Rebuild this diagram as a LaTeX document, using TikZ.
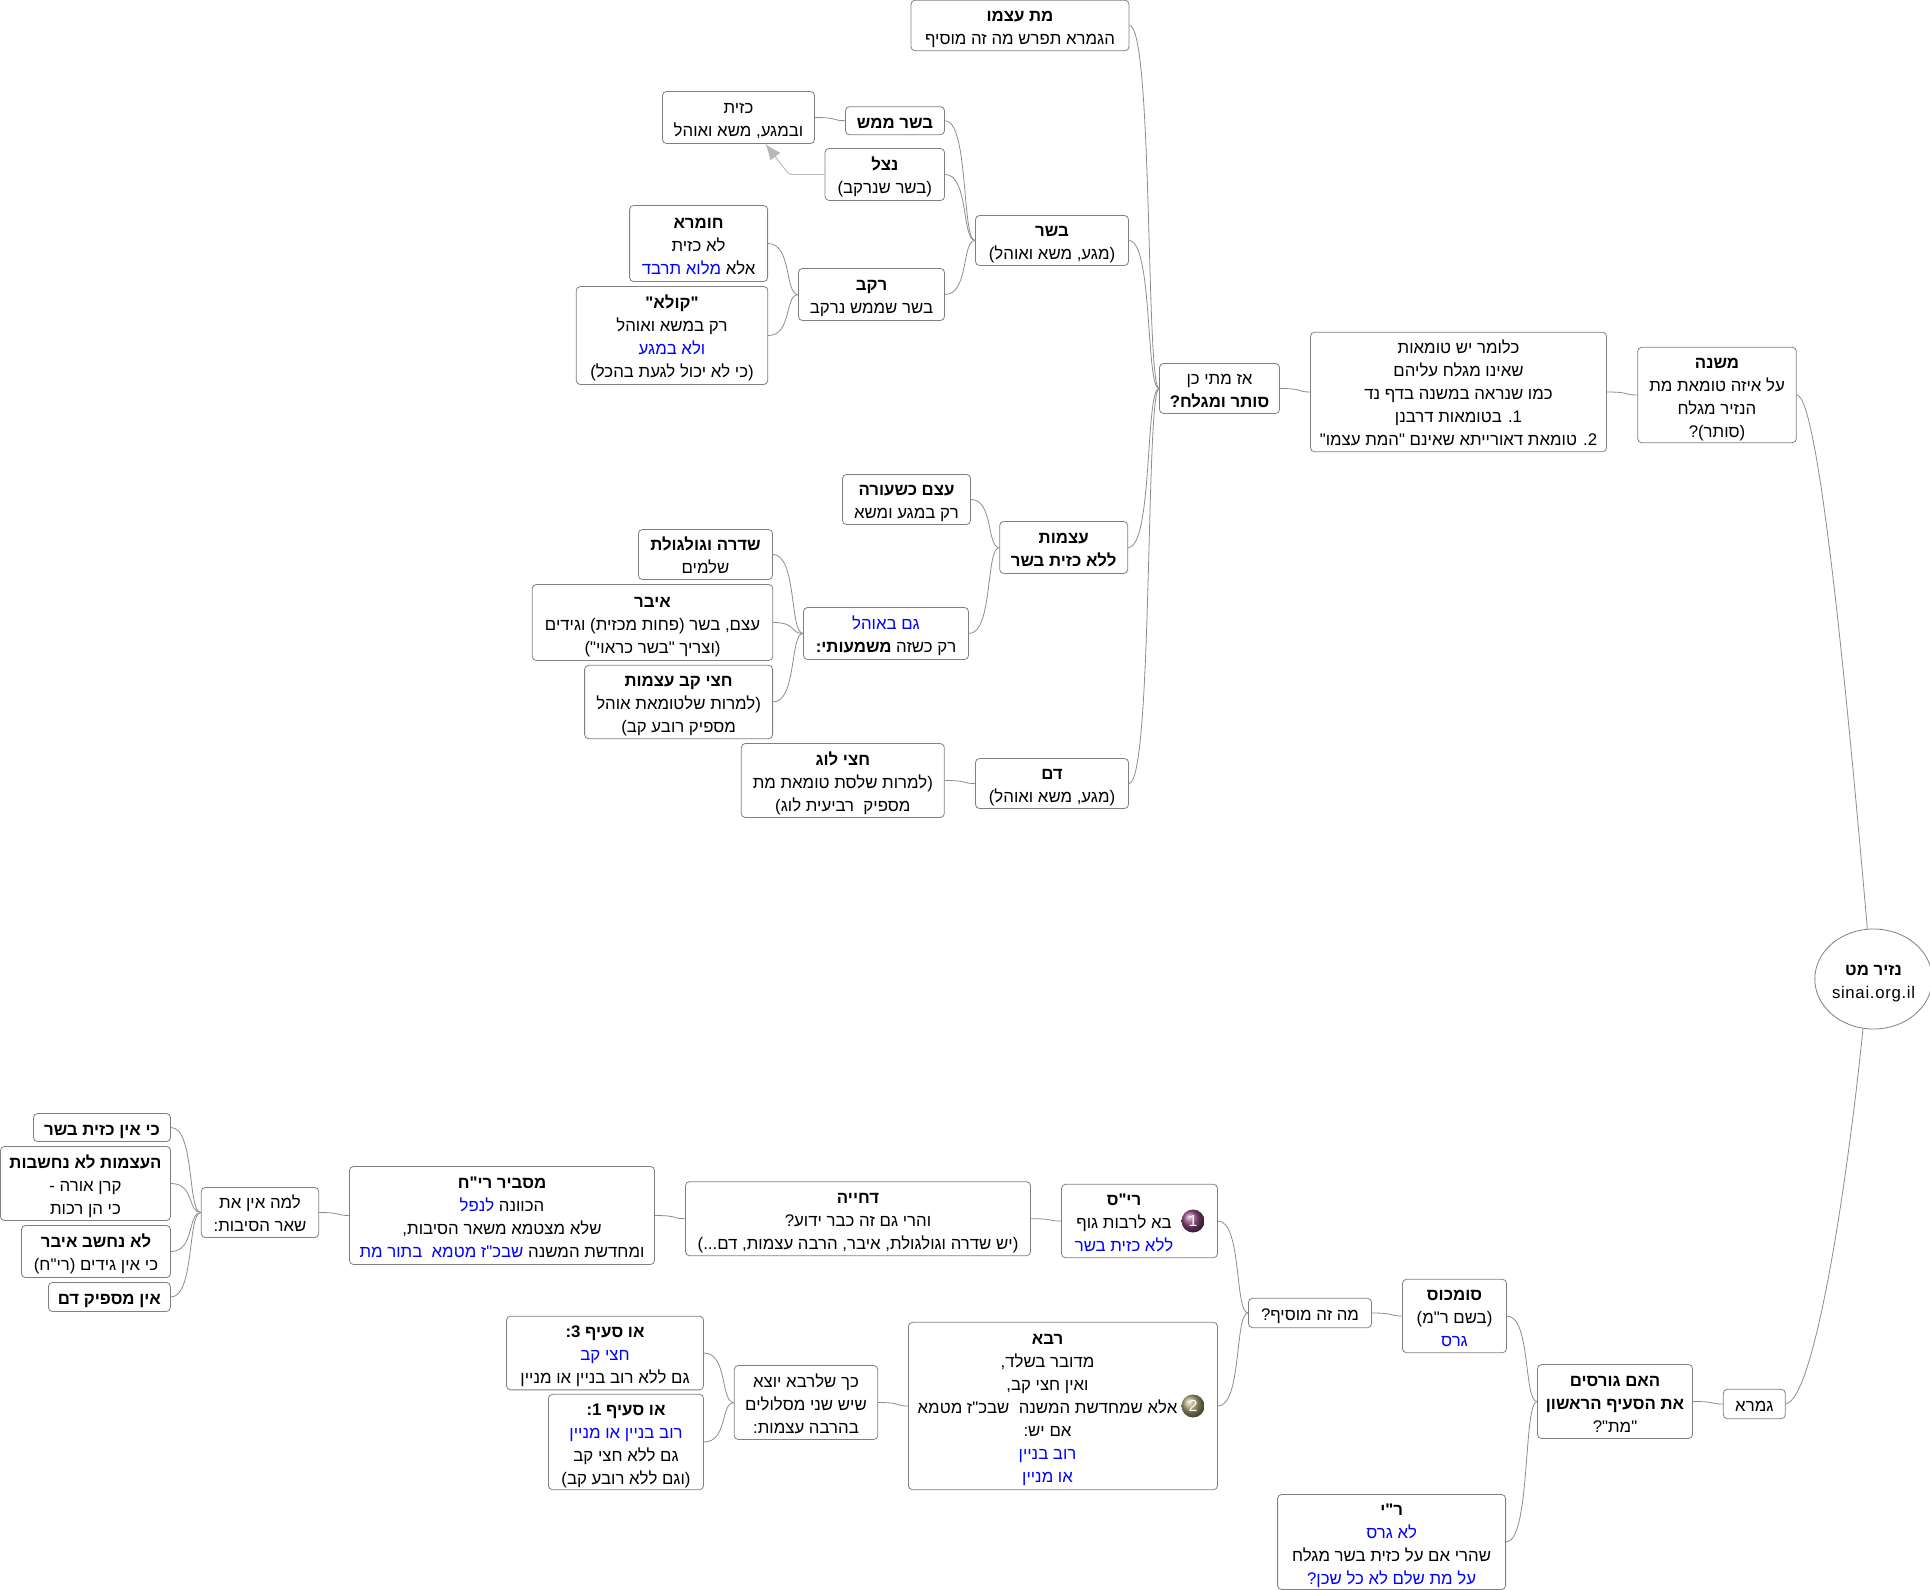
\documentclass[tikz,border=0pt]{standalone}
\usepackage{fontspec}
\setmainfont{Liberation Sans}
\newfontfamily\hebfont[Script=Hebrew]{Liberation Sans}
\TeXXeTstate=1
\usetikzlibrary{arrows.meta,calc,shapes.geometric}
\newcommand{\hs}{\rule[-4pt]{0pt}{23pt}}
\newcommand{\hl}[1]{\hs{\hebfont\beginR #1\endR}}
\newcommand{\hb}[1]{\hs{\hebfont\bfseries\beginR #1\endR}}
% inside \beginR the node order flips, so pop comes first
\newcommand{\hc}[1]{\special{color pop}#1\special{color push rgb 0 0 1}}

\begin{document}
\begin{tikzpicture}[x=1pt,y=-1pt,
  mm/.style={rectangle,draw=black!50,fill=white,rounded corners=4pt,line width=.8pt,inner sep=0pt,align=center,font=\fontsize{16.8}{23}\selectfont},
  sz/.style 2 args={minimum width=#1pt,minimum height=#2pt},
  tx/.style={inner sep=0pt,align=center,font=\fontsize{16.8}{23}\selectfont},
  ic/.style={circle,minimum size=23pt,inner sep=0pt,text=white,font=\fontsize{16}{16}\selectfont},
  lnk/.style={draw=black!45,line width=.8pt,to path={let \p1=(\tikztostart),\p2=(\tikztotarget) in .. controls ({\x1+.8*(\x2-\x1)},\y1) and ({\x1+.55*(\x2-\x1)},\y2) .. (\tikztotarget)}},
  a/.style={-{Latex[length=16pt,width=13pt]},draw=black!28,line width=.9pt}]

\useasboundingbox (0,0) rectangle (1930,1590);

% root
\node[mm,ellipse,sz={112}{100}] (root) at (1873.5,979) {\hb{נזיר מט}\\\hs{\addfontfeature{LetterSpace=4}sinai.org.il}};

% upper branch
\node[mm,sz={158.6}{95.4}] (mishna) at (1717,395) {\hb{משנה}\\\hl{על איזה טומאת מת}\\\hl{הנזיר מגלח}\\\hl{(סותר)?}};
\node[mm,sz={296}{119.5}] (klomar) at (1458.5,392) {\hl{כלומר יש טומאות}\\\hl{שאינו מגלח עליהם}\\\hl{כמו שנראה במשנה בדף נד}\\\hl{1\kern0pt. בטומאות דרבנן}\\\hl{2\kern0pt. טומאת דאורייתא שאינם "המת עצמו"}};
\node[mm,sz={120}{50}] (azmatai) at (1219.5,388.5) {\hl{אז מתי כן}\\\hb{סותר ומגלח?}};

\node[mm,sz={218}{50.5}] (matatzmo) at (1020,25.5) {\hb{מת עצמו}\\\hl{הגמרא תפרש מה זה מוסיף}};

% basar
\node[mm,sz={153}{50}] (basar) at (1052,240.5) {\hb{בשר}\\\hl{(מגע, משא ואוהל)}};
\node[mm,sz={99}{28}] (mamash) at (895,120.7) {\hb{בשר ממש}};
\node[mm,sz={119.5}{52}] (netzel) at (884.8,174.5) {\hb{נצל}\\\hl{(בשר שנרקב)}};
\node[mm,sz={146}{52}] (rekev) at (871.5,294.5) {\hb{רקב}\\\hl{בשר שממש נרקב}};
\node[mm,sz={152}{52}] (kazayit) at (738.5,117.5) {\hl{כזית}\\\hl{ובמגע, משא ואוהל}};
\node[mm,sz={138}{76}] (chumra) at (698.6,243.5) {\hb{חומרא}\\\hl{לא כזית}\\\hl{אלא \hc{מלוא תרבד}}};
\node[mm,sz={191.5}{98}] (kula) at (672,335.5) {\hb{"קולא"}\\\hl{רק במשא ואוהל}\\\hl{\hc{ולא במגע}}\\\hl{(כי לא יכול לגעת בהכל)}};

% atzamot
\node[mm,sz={128}{52}] (atzamot) at (1063.7,547.5) {\hb{עצמות}\\\hb{ללא כזית בשר}};
\node[mm,sz={128}{50}] (etzem) at (906.5,499.5) {\hb{עצם כשעורה}\\\hl{רק במגע ומשא}};
\node[mm,sz={165}{52}] (gam) at (886,633.5) {\hl{\hc{גם באוהל}}\\\hl{רק כשזה {\bfseries משמעותי:}}};
\node[mm,sz={134}{50}] (shidra) at (705.5,554.5) {\hb{שדרה וגולגולת}\\\hl{שלמים}};
\node[mm,sz={240.5}{76}] (ever) at (652.5,622.5) {\hb{איבר}\\\hl{עצם, בשר (פחות מכזית) וגידים}\\\hl{(וצריך "בשר כראוי")}};
\node[mm,sz={188}{73.4}] (chatzikav) at (678.6,702) {\hb{חצי קב עצמות}\\\hl{(למרות שלטומאת אוהל}\\\hl{מספיק רובע קב)}};

% dam
\node[mm,sz={153}{50}] (dam) at (1052,783.5) {\hb{דם}\\\hl{(מגע, משא ואוהל)}};
\node[mm,sz={203}{74}] (chatzilog) at (842.8,780.5) {\hb{חצי לוג}\\\hl{(למרות שלסת טומאת מת}\\\hl{מספיק\ \ רביעית לוג)}};

% lower branch
\node[mm,sz={62}{29.4}] (gemara) at (1754.3,1404) {\hl{גמרא}};
\node[mm,sz={155}{74}] (haim) at (1615,1401.5) {\hb{האם גורסים}\\\hb{את הסעיף הראשון}\\\hl{"מת"?}};
\node[mm,sz={104}{73.4}] (sumchus) at (1454.5,1316) {\hb{סומכוס}\\\hl{(בשם ר"מ)}\\\hl{\hc{גרס}}};
\node[mm,sz={228}{95}] (ri) at (1391.6,1542) {\hb{ר"י}\\\hl{\hc{לא גרס}}\\\hl{שהרי אם על כזית בשר מגלח}\\\hl{\hc{על מת שלם לא כל שכן?}}};
\node[mm,sz={123}{29.4}] (mamosif) at (1310,1313) {\hl{מה זה מוסיף?}};

% riss and rava carry an icon, so their text sits apart from the box
\node[mm,sz={156}{73.4}] (riss) at (1139.5,1221) {};
\node[tx] (risstx) at (1124,1221) {\hb{רי"ס}\\\hl{בא לרבות גוף}\\\hl{\hc{ללא כזית בשר}}};
\node[ic,ball color={rgb,255:red,140;green,70;blue,125}] (icona) at (1193,1221) {1};
\node[mm,sz={309}{167.4}] (rava) at (1063,1406) {};
\node[tx] (ravatx) at (1047.5,1406) {\hb{רבא}\\\hl{מדובר בשלד,}\\\hl{ואין חצי קב,}\\\hl{אלא שמחדשת המשנה\ \ שבכ"ז מטמא}\\\hl{אם יש:}\\\hl{\hc{רוב בניין}}\\\hl{\hc{או מניין}}};
\node[ic,ball color={rgb,255:red,165;green,160;blue,110}] (iconb) at (1193,1406) {2};

% riss chain
\node[mm,sz={345}{74}] (dchiya) at (858,1218.7) {\hb{דחייה}\\\hl{והרי גם זה כבר ידוע?}\\\hl{(יש שדרה וגולגולת, איבר, הרבה עצמות, דם...)}};
\node[mm,sz={305}{98}] (masbir) at (502,1215.5) {\hb{מסביר רי"ח}\\\hl{הכוונה \hc{לנפל}}\\\hl{שלא מצטמא משאר הסיבות,}\\\hl{ומחדשת המשנה \hc{שבכ"ז מטמא\ \ בתור מת}}};
\node[mm,sz={117.5}{50}] (lama) at (260,1212.5) {\hl{למה אין את}\\\hl{שאר הסיבות:}};
\node[mm,sz={137}{28}] (kiein) at (102,1127.5) {\hb{כי אין כזית בשר}};
\node[mm,sz={170}{74}] (haatzamot) at (85.5,1183.5) {\hb{העצמות לא נחשבות}\\\hl{קרן אורה -}\\\hl{כי הן רכות}};
\node[mm,sz={149}{52}] (lonechshav) at (96,1251.5) {\hb{לא נחשב איבר}\\\hl{כי אין גידים (רי"ח)}};
\node[mm,sz={122}{29}] (einmaspik) at (109.4,1297) {\hb{אין מספיק דם}};

% rava chain
\node[mm,sz={143.5}{74}] (kach) at (806,1402.5) {\hl{כך שלרבא יוצא}\\\hl{שיש שני מסלולים}\\\hl{בהרבה עצמות:}};
\node[mm,sz={197}{73.7}] (osthree) at (605,1353) {\hb{או סעיף 3\kern0pt:}\\\hl{\hc{חצי קב}}\\\hl{גם ללא רוב בניין או מניין}};
\node[mm,sz={155}{95.4}] (osone) at (626,1442) {\hb{או סעיף 1\kern0pt:}\\\hl{\hc{רוב בניין או מניין}}\\\hl{גם ללא חצי קב}\\\hl{(וגם ללא רובע קב)}};

% connectors
\draw[draw=black!45,line width=.8pt] (mishna.east) .. controls +(22,0) and +(-20,-230) .. (root.97);
\draw[draw=black!45,line width=.8pt] (gemara.east) .. controls +(30,-5) and +(-14,140) .. (root.258);
\draw[lnk] (klomar.east) to (mishna.west);
\draw[lnk] (azmatai.east) to (klomar.west);
\draw[lnk] (matatzmo.east) to (azmatai.west);
\draw[lnk] (basar.east) to (azmatai.west);
\draw[lnk] (atzamot.east) to (azmatai.west);
\draw[lnk] (dam.east) to (azmatai.west);
\draw[lnk] (mamash.east) to (basar.west);
\draw[lnk] (netzel.east) to (basar.west);
\draw[lnk] (rekev.east) to (basar.west);
\draw[lnk] (kazayit.east) to (mamash.west);
\draw[lnk] (chumra.east) to (rekev.west);
\draw[lnk] (kula.east) to (rekev.west);
\draw[lnk] (etzem.east) to (atzamot.west);
\draw[lnk] (gam.east) to (atzamot.west);
\draw[lnk] (shidra.east) to (gam.west);
\draw[lnk] (ever.east) to (gam.west);
\draw[lnk] (chatzikav.east) to (gam.west);
\draw[lnk] (chatzilog.east) to (dam.west);
\draw[lnk] (haim.east) to (gemara.west);
\draw[lnk] (sumchus.east) to (haim.west);
\draw[lnk] (ri.east) to (haim.west);
\draw[lnk] (mamosif.east) to (sumchus.west);
\draw[lnk] (riss.east) to (mamosif.west);
\draw[lnk] (rava.east) to (mamosif.west);
\draw[lnk] (dchiya.east) to (riss.west);
\draw[lnk] (masbir.east) to (dchiya.west);
\draw[lnk] (lama.east) to (masbir.west);
\draw[lnk] (kiein.east) to (lama.west);
\draw[lnk] (haatzamot.east) to (lama.west);
\draw[lnk] (lonechshav.east) to (lama.west);
\draw[lnk] (einmaspik.east) to (lama.west);
\draw[lnk] (kach.east) to (rava.west);
\draw[lnk] (osthree.east) to (kach.west);
\draw[lnk] (osone.east) to (kach.west);

% the one arrow
\coordinate (bend) at (789,174.5);
\draw[a,rounded corners=3pt] (netzel.west) -- (bend) -- ([xshift=27pt]kazayit.south);
\end{tikzpicture}
\end{document}
